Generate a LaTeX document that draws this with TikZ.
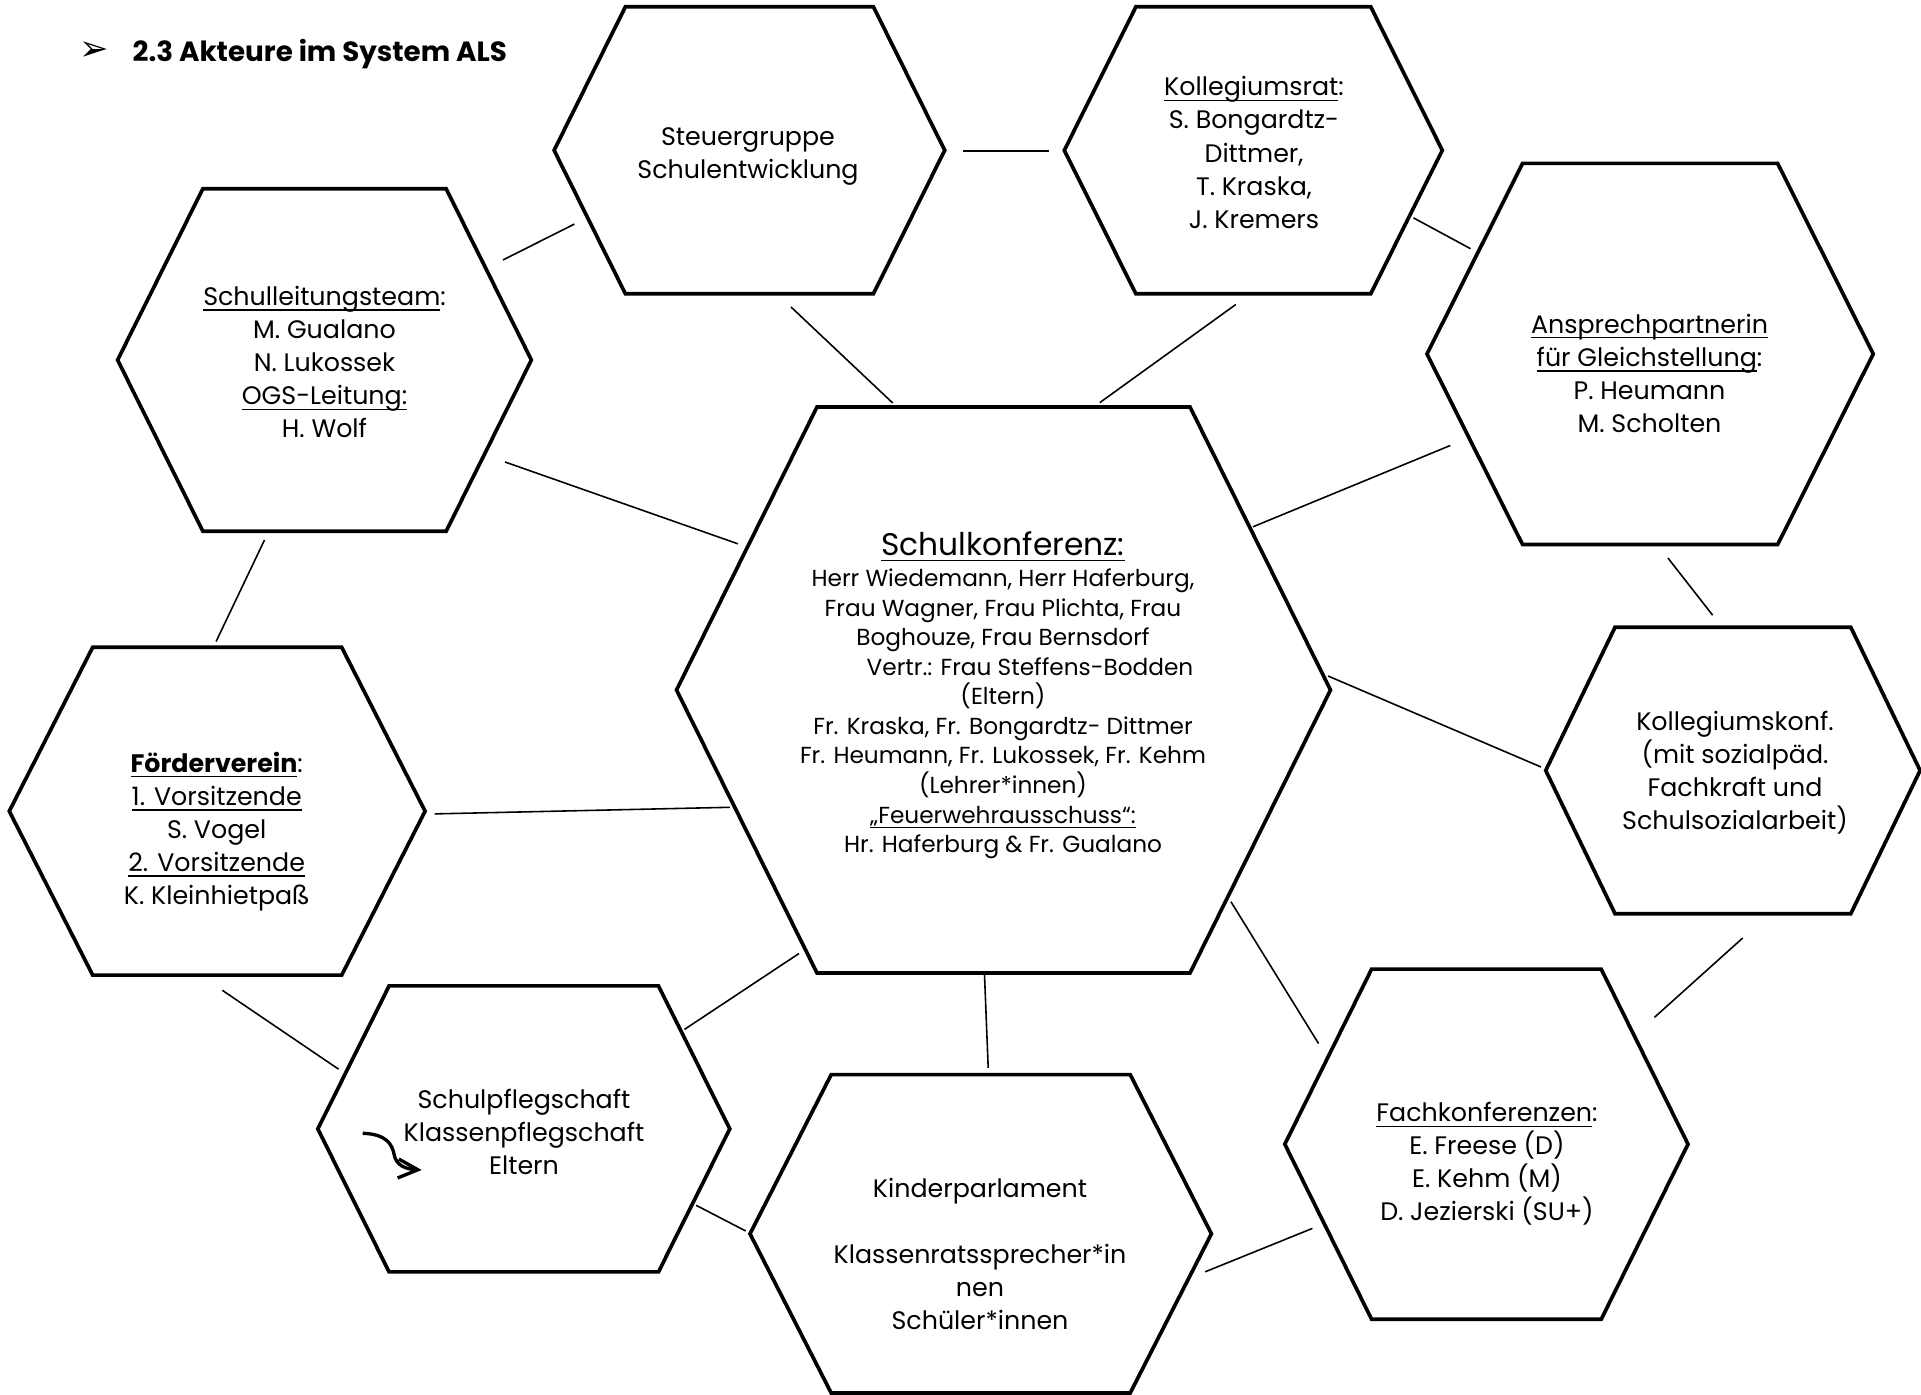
\documentclass[tikz,border=0pt]{standalone}
\usepackage{fontspec}
\setmainfont{Poppins}
\newfontfamily\dejavu{DejaVu Sans}
\usetikzlibrary{arrows.meta}
\newcommand{\uln}[1]{\leavevmode\setbox0\hbox{#1}\rlap{\rule[-0.2em]{\wd0}{0.05em}}\box0}

\begin{document}
\begin{tikzpicture}[x=0.01cm,y=-0.01cm,
    hex/.style={draw, line width=1.05pt, line join=miter},
    hextext/.style={align=center, inner sep=0pt, font=\fontsize{7.2}{9.4}\selectfont},
    sktext/.style={align=center, inner sep=0pt, font=\fontsize{6.6}{8.4}\selectfont},
    link/.style={line width=0.45pt}]
    \fill[white] (0,0) rectangle (1921,1395);
    \useasboundingbox (0,0) rectangle (1921,1395);

    % hexagons: centre x / centre y / half width / half top edge / half height
    \foreach \cx/\cy/\R/\r/\h in {
        749.4/150.3/195.3/124/143.5,   % Steuergruppe
        1253.3/150.3/189/117.4/143.5,  % Kollegiumsrat
        324.5/360/206.9/121.6/171.3,   % Schulleitungsteam
        1650.1/354/223.1/127.5/190.6,  % Gleichstellung
        1003.5/690/327/186.5/283,      % Schulkonferenz
        217.2/811.2/207.9/124.5/163.9, % Foerderverein
        1732.9/770.5/187.2/117.9/143.2,% Kollegiumskonf.
        523.8/1128.9/206/134.7/143,    % Schulpflegschaft
        980.7/1233.8/230.7/149.5/159.2,% Kinderparlament
        1486.4/1144.2/201.6/114.8/175.1% Fachkonferenzen
    }
        \draw[hex] (\cx-\R,\cy) -- (\cx-\r,\cy-\h) -- (\cx+\r,\cy-\h)
            -- (\cx+\R,\cy) -- (\cx+\r,\cy+\h) -- (\cx-\r,\cy+\h) -- cycle;

    % title
    \node[font=\dejavu\fontsize{10}{12}\selectfont, inner sep=0pt] (bullet) at (94.5,51) {➢};
    \node[anchor=base west, inner sep=0pt, font=\fontsize{7.9}{10}\selectfont\bfseries]
        (title) at (132,61.7) {2.3 Akteure im System ALS};

    % texts
    \node[hextext] (sg) at (748,156.5) {Steuergruppe\\Schulentwicklung};
    \node[hextext] (kr) at (1254,152.5) {\uln{Kollegiumsrat}:\\S. Bongardtz-\\Dittmer,\\T. Kraska,\\J. Kremers};
    \node[hextext] (sl) at (324.5,362.3) {\uln{Schulleitungsteam}:\\M. Gualano\\N. Lukossek\\\uln{OGS-Leitung:}\\H. Wolf};
    \node[hextext] (ap) at (1649.5,373.5) {\uln{Ansprechpartnerin}\\\uln{für Gleichstellung}:\\P. Heumann\\M. Scholten};
    \node[sktext] (sk) at (1003,695) {{\fontsize{8.9}{11}\selectfont\uln{Schulkonferenz:}}\\[0.6pt]
        Herr Wiedemann, Herr Haferburg,\\Frau Wagner, Frau Plichta, Frau\\Boghouze, Frau Bernsdorf\\
        \hspace*{0.54cm}Vertr.: Frau Steffens-Bodden\\(Eltern)\\Fr. Kraska, Fr. Bongardtz- Dittmer\\
        Fr. Heumann, Fr. Lukossek, Fr. Kehm\\(Lehrer*innen)\\\uln{„Feuerwehrausschuss“:}\\
        Hr. Haferburg \& Fr. Gualano};
    \node[hextext] (fv) at (216.7,831.7) {\uln{\textbf{Förderverein}}:\\\uln{1. Vorsitzende}\\S. Vogel\\\uln{2. Vorsitzende}\\K. Kleinhietpaß};
    \node[hextext] (kk) at (1735,772.5) {Kollegiumskonf.\\(mit sozialpäd.\\Fachkraft und\\Schulsozialarbeit)};
    \node[hextext] (sp) at (524,1131.7) {Schulpflegschaft\\Klassenpflegschaft\\Eltern};
    \node[hextext] (kp) at (980,1254) {Kinderparlament\\\mbox{}\\Klassenratssprecher*in\\nen\\Schüler*innen};
    \node[hextext] (fk) at (1487,1164) {\uln{Fachkonferenzen}:\\E. Freese (D)\\E. Kehm (M)\\D. Jezierski (SU+)};

    % connector ends
    \coordinate (sg-sl) at (574.3,224.1);  \coordinate (sl-sg) at (503,260);
    \coordinate (sg-kr) at (963,150.9);    \coordinate (kr-sg) at (1048.9,150.9);
    \coordinate (sg-sk) at (791,307);      \coordinate (sk-sg) at (892.7,403);
    \coordinate (kr-sk) at (1235.8,304.5); \coordinate (sk-kr) at (1099.7,402.7);
    \coordinate (kr-ap) at (1413.5,217.9); \coordinate (ap-kr) at (1470.5,248.7);
    \coordinate (sl-sk) at (505,462);      \coordinate (sk-sl) at (737.8,543.8);
    \coordinate (sl-fv) at (264.5,540);    \coordinate (fv-sl) at (216.1,641.5);
    \coordinate (ap-sk) at (1450.3,445.5); \coordinate (sk-ap) at (1253,526.8);
    \coordinate (ap-kk) at (1667.9,558);   \coordinate (kk-ap) at (1712.6,615.2);
    \coordinate (sk-kk) at (1328,676);     \coordinate (kk-sk) at (1541,767);
    \coordinate (fv-sk) at (434.7,813.9);  \coordinate (sk-fv) at (729.8,807.3);
    \coordinate (fv-sp) at (222.3,990.3);  \coordinate (sp-fv) at (338.6,1069.2);
    \coordinate (sp-sk) at (684.5,1029.4); \coordinate (sk-sp) at (799,953.5);
    \coordinate (sp-kp) at (696.1,1205.3); \coordinate (kp-sp) at (745.7,1231);
    \coordinate (sk-kp) at (984.5,974.8);  \coordinate (kp-sk) at (988.2,1067.9);
    \coordinate (sk-fk) at (1230.9,901.7); \coordinate (fk-sk) at (1318.5,1043.5);
    \coordinate (kp-fk) at (1205.2,1271.8);\coordinate (fk-kp) at (1312.4,1228.4);
    \coordinate (fk-kk) at (1654.4,1017.4);\coordinate (kk-fk) at (1742.7,938);

    \foreach \a/\b in {sg/sl, sg/kr, sg/sk, kr/sk, kr/ap, sl/sk, sl/fv, ap/sk, ap/kk,
        sk/kk, fv/sk, fv/sp, sp/sk, sp/kp, sk/kp, sk/fk, kp/fk, fk/kk}
        \draw[link] (\a-\b) -- (\b-\a);

    % curly arrow in Schulpflegschaft
    \coordinate (arrS) at (362.7,1133.3);
    \coordinate (arrE) at (421.7,1170);
    \draw[line width=0.95pt, -{Straight Barb[length=5.6pt,width=5.4pt]}]
        (arrS) .. controls (386,1134) and (392,1144) .. (394,1154)
        .. controls (396,1166) and (406,1169) .. (arrE);
\end{tikzpicture}
\end{document}
